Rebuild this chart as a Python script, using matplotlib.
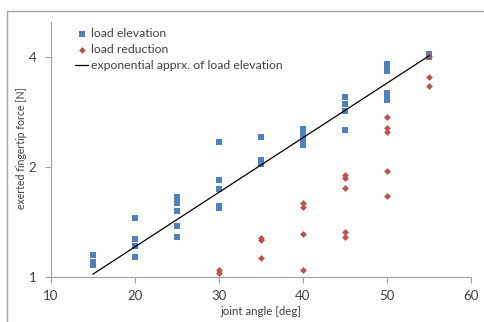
import matplotlib
matplotlib.use("Agg")
import matplotlib.pyplot as plt
import numpy as np
from matplotlib.patches import Rectangle

elev_x = [15, 15, 15,
          20, 20, 20, 20,
          25, 25, 25, 25, 25, 25,
          30, 30, 30, 30, 30,
          35, 35, 35, 35,
          40, 40, 40, 40, 40, 40,
          45, 45, 45, 45,
          50, 50, 50, 50, 50, 50,
          55, 55]
elev_y = [1.15, 1.10, 1.08,
          1.45, 1.27, 1.22, 1.14,
          1.66, 1.63, 1.60, 1.52, 1.38, 1.29,
          2.34, 1.85, 1.75, 1.57, 1.55,
          2.42, 2.10, 2.07, 2.04,
          2.55, 2.50, 2.46, 2.43, 2.36, 2.30,
          3.12, 2.98, 2.86, 2.53,
          3.84, 3.76, 3.68, 3.19, 3.12, 3.06,
          4.08, 4.02]

red_x = [30, 30,
         35, 35, 35,
         40, 40, 40, 40,
         45, 45, 45, 45, 45,
         50, 50, 50, 50, 50,
         55, 55, 55]
red_y = [1.047, 1.03,
         1.28, 1.265, 1.13,
         1.60, 1.56, 1.31, 1.05,
         1.905, 1.87, 1.76, 1.33, 1.29,
         2.75, 2.57, 2.50, 1.95, 1.67,
         4.03, 3.54, 3.35]

fit_a = 0.609
fit_b = 0.0344
fit_x = [15, 55]

fig = plt.figure(figsize=(4.85, 3.22), dpi=100)
fig.patches.append(Rectangle((7/485, -0.1), 1.2, (322-11)/322 + 0.1,
                             transform=fig.transFigure, fill=False,
                             edgecolor="#a6a6a6", linewidth=1.0))
ax = fig.add_axes([51/485, 1-277.3/322, 420/485, (277.3-22)/322])
ax.set_yscale("log", base=2)

ax.scatter(elev_x, elev_y, marker="s", s=22, color="#4F81BD", label="load elevation", zorder=3, linewidths=0)
ax.scatter(red_x, red_y, marker="D", s=12, color="#C0504D", label="load reduction", zorder=4, linewidths=0)
xs = np.array(fit_x, dtype=float)
ax.plot(xs, fit_a*np.exp(fit_b*xs), color="black", lw=0.9, label="exponential apprx. of load elevation", zorder=5)

ax.set_xlim(10, 60)
ax.set_ylim(1, 5)
ax.set_xticks([10, 20, 30, 40, 50, 60])
ax.set_yticks([1, 2, 4])
ax.set_yticklabels(["1", "2", "4"])
ax.minorticks_off()
for s in ["top", "right"]:
    ax.spines[s].set_visible(False)
for s in ["left", "bottom"]:
    ax.spines[s].set_color("#a0a0a0")
ax.tick_params(colors="#a0a0a0", labelcolor="#404040", labelsize=9.5, length=4, width=0.8)
ax.tick_params(axis="y", pad=6.5)
ax.tick_params(axis="x", pad=5)
fam = "Lato"
for lbl in ax.get_xticklabels()+ax.get_yticklabels():
    lbl.set_fontfamily(fam)
ax.set_xlabel("joint angle [deg]", fontsize=8.3, color="#404040", family=fam, labelpad=3)
ax.set_ylabel("exerted fingertip force [N]", fontsize=7.6, color="#404040", family=fam)
ax.yaxis.set_label_coords(-0.056, 0.506)

leg = ax.legend(loc="upper left", bbox_to_anchor=(0.057, 0.977), frameon=False,
                prop={"family": fam, "size": 8.8}, labelcolor="#404040",
                handlelength=1.1, handletextpad=0.2, labelspacing=0.42,
                borderaxespad=0.0, borderpad=0.0)

fig.savefig("out.png", dpi=100)
